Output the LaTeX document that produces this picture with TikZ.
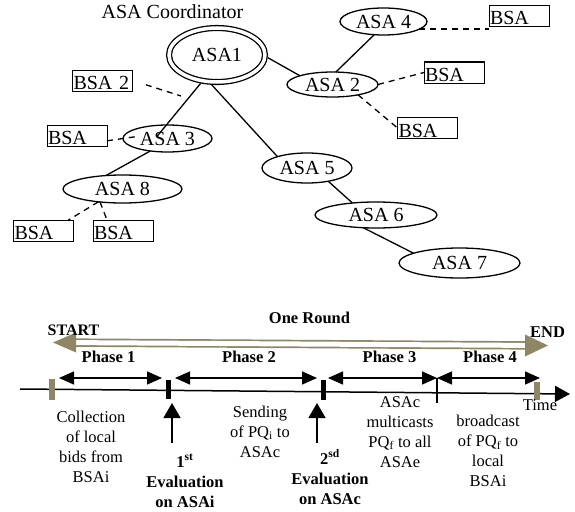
\documentclass[tikz,border=0pt]{standalone}
\usepackage{fontspec}
\setmainfont{Liberation Serif}
\usetikzlibrary{shapes,arrows.meta,calc,positioning}
\definecolor{khaki}{RGB}{143,134,102}

\begin{document}
\begin{tikzpicture}[x=1pt,y=-1pt,
	asa/.style={draw, ellipse, line width=1.3pt, inner sep=0pt, outer sep=0pt, font=\fontsize{20}{24}\selectfont},
	bsabox/.style={draw, rectangle, line width=1pt, inner xsep=1pt, inner ysep=0pt, outer sep=0pt, minimum height=21pt, text width=58pt, align=left, text height=18pt, text depth=0pt, font=\fontsize{20}{24}\selectfont},
	link/.style={line width=1.3pt},
	dlink/.style={line width=1.3pt, dash pattern=on 6pt off 5pt},
	phase/.style={line width=1.5pt, {Triangle[length=15pt,width=13pt]}-{Triangle[length=15pt,width=13pt]}},
	uparrow/.style={line width=1.5pt, -{Triangle[length=15pt,width=17pt]}},
	lbl/.style={font=\fontsize{16.5}{19.7}\selectfont, align=center, anchor=base},
	blbl/.style={font=\fontsize{16.5}{20}\selectfont\bfseries, align=center, anchor=base},
	]
	\useasboundingbox (0,0) rectangle (575,511);
	%Definitions - sizes of the round arrow%
	%===========================================================
	\def \HeadL {23}; %length of the khaki arrow head
	\def \HeadW {10}; %half width of the khaki arrow head
	
	%% Agent tree%
	%===========================================================
	\node[font=\fontsize{20}{24}\selectfont, anchor=base] (coord) at (172.5,18.3) {ASA Coordinator};
	\node[asa, double=white, double distance=3.5pt, minimum width=96pt, minimum height=54pt, outer sep=3pt] (asa1) at (217,55) {ASA1}; %coordinator
	\node[asa, minimum width=87pt, minimum height=27pt] (asa4) at (383.5,21.5) {ASA 4};
	\node[asa, minimum width=91pt, minimum height=25pt] (asa2) at (332.5,84.5) {ASA 2};
	\node[asa, minimum width=89pt, minimum height=27pt] (asa3) at (167.5,138.5) {ASA 3};
	\node[asa, minimum width=119pt, minimum height=28pt] (asa8) at (122.5,189) {ASA 8};
	\node[asa, minimum width=90pt, minimum height=30pt] (asa5) at (307,168) {ASA 5};
	\node[asa, minimum width=122pt, minimum height=26pt] (asa6) at (376,215) {ASA 6};
	\node[asa, minimum width=121pt, minimum height=30pt] (asa7) at (459.5,263) {ASA 7};
	
	\node[bsabox] (bsa4) at (519,16) {BSA};
	\node[bsabox] (bsa2r) at (454,72.5) {BSA};
	\node[bsabox] (bsa2d) at (427.5,128) {BSA};
	\node[bsabox] (bsa2) at (102.5,80.5) {BSA 2};
	\node[bsabox] (bsa3) at (77,135.5) {BSA};
	\node[bsabox] (bsa8a) at (43.5,230.5) {BSA};
	\node[bsabox] (bsa8b) at (123,230.5) {BSA};
	\coordinate (bsa2end) at (181,96); %free end of the BSA 2 link
	
	\draw[link] (asa1.-3) -- (asa2.165);
	\draw[link] (asa4.235) -- (asa2.75);
	\draw[link] (asa1.240) -- ($(asa3.north)+(-11,12)$);
	\draw[link] (asa3.216) -- (asa8.141);
	\draw[link] (asa1.260) -- (asa5.159);
	\draw[link] (asa5.-32) -- (asa6.153);
	\draw[link] (asa6.-135) -- (asa7.168);
	
	\draw[dlink] (asa4.-12) -- (asa4.-12 -| bsa4.west);
	\draw[dlink] (asa2.east) -- (bsa2r.west);
	\draw[dlink] (asa2.-22) -- (bsa2d.west);
	\draw[dlink, shorten <=14pt] (bsa2.east) -- (bsa2end);
	\draw[dlink, shorten >=-14pt] (bsa3.-10) -- (asa3.west);
	\draw[dlink] (asa8.-152) -- ([xshift=-5pt]bsa8a.north east);
	\draw[dlink] (asa8.-150) -- ([xshift=14pt]bsa8b.north west);
	
	%% Time line%
	%===========================================================
	\coordinate (rs) at (53,342.5); %tip START
	\coordinate (re) at (548,345.5); %tip END
	\draw[khaki, line width=1.7pt, double=white, double distance=5pt] ($(rs)+(\HeadL-2,0.1)$) -- ($(re)+(-\HeadL+2,-0.1)$); %round shaft
	\fill[khaki] (rs) -- ++(\HeadL,-\HeadW) -- ++(0,2*\HeadW) -- cycle;
	\fill[khaki] (re) -- ++(-\HeadL,-\HeadW-1) -- ++(0,2*\HeadW+2) -- cycle;
	\node[blbl, font=\fontsize{16}{19}\selectfont\bfseries] (start) at (73.5,335) {START};
	\node[blbl] (round) at (309.5,323) {One Round};
	\node[blbl] (end) at (547.5,337) {END};
	
	\coordinate (t0) at (20,389);
	\coordinate (t1) at (570,394);
	\draw[line width=1.5pt, -{Triangle[length=15pt,width=16pt]}] (t0) -- (t1); %time axis
	\fill[khaki] (49,379) rectangle (55,400);
	\fill[black] (165.5,380) rectangle (170.5,399);
	\fill[black] (320.5,380) rectangle (325.5,400);
	\draw[line width=1.3pt] (437,378) -- (437,403);
	\fill[khaki] (534,382) rectangle (540,400);
	\node[lbl] (time) at (540,410) {Time};
	
	% phases
	\foreach \a/\b/\n/\x in {59/162/1/108.5, 175/317/2/249, 328/437/3/389.5, 437/540/4/490}{
		\draw[phase] (\a,378) -- (\b,378);
		\node[blbl] (ph\n) at (\x,362) {Phase \n};
	}
	
	\draw[uparrow] (172,443) -- (172,403); %1st evaluation
	\draw[uparrow] (317,443) -- (317,403); %2nd evaluation
	
	% texts below the axis (base = last line)
	\node[lbl] (collect) at (91,482) {Collection\\of local\\bids from\\BSAi};
	\node[lbl] (send) at (260,457) {Sending\\of PQ\textsubscript{i} to\\ASAc};
	\node[lbl] (multi) at (400,467) {ASAc\\multicasts\\PQ\textsubscript{f} to all\\ASAe};
	\node[lbl] (bcast) at (488,486) {broadcast\\of PQ\textsubscript{f} to\\local\\BSAi};
	\node[blbl] (eval1) at (185,507) {1\textsuperscript{st}\\Evaluation\\on ASAi};
	\node[blbl] (eval2) at (330,504) {2\textsuperscript{sd}\\Evaluation\\on ASAc};
\end{tikzpicture}
\end{document}
